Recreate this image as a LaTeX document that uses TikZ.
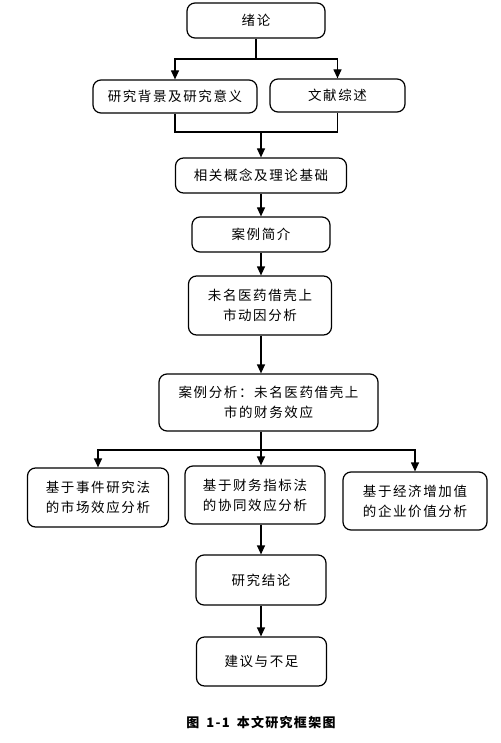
\documentclass[tikz,border=0pt]{standalone}
\usepackage{fontspec}
\newfontfamily\cjk[LetterSpace=12]{Noto Sans CJK SC}
\newfontfamily\cjkcap[LetterSpace=10]{Noto Sans CJK SC}
\usetikzlibrary{arrows.meta}
\tikzset{
  box/.style = {draw, rounded corners=#1, line width=1.2pt,
                align=center, inner sep=0pt, font=\cjk\fontsize{13.5}{20}\selectfont},
  box/.default = 8pt,
  arr/.style = {line width=1.2pt, -{Triangle[length=9pt,width=8pt]}},
  lnk/.style = {line width=1.2pt}
}

\begin{document}
\begin{tikzpicture}[x=1pt,y=-1pt]
	\useasboundingbox (0,0) rectangle (500,743);
	\def \w{140}
	\def \h{35}
	
	% Top
	\node[box, minimum width=138, minimum height=\h] (intro) at (256,20.5) {绪论};
	\node[box, minimum width=164, minimum height=33] (bg) at (175,96.5) {研究背景及研究意义};
	\node[box, minimum width=135, minimum height=33] (lit) at (337.5,95.5) {文献综述};
	\node[box, minimum width=171, minimum height=\h] (theory) at (261,175.5) {相关概念及理论基础};
	
	% Case
	\node[box, minimum width=138, minimum height=\h] (case) at (261,234.5) {案例简介};
	\node[box, minimum width=143, minimum height=59] (motive) at (260,305.5) {未名医药借壳上\\市动因分析};
	\node[box, minimum width=219, minimum height=57] (effect) at (268.5,402.5) {案例分析：未名医药借壳上\\市的财务效应};
	
	% Three methods
	\node[box, minimum width=141, minimum height=59] (market) at (98,497.5) {基于事件研究法\\的市场效应分析};
	\node[box, minimum width=\w, minimum height=58] (synergy) at (255,495) {基于财务指标法\\的协同效应分析};
	\node[box, minimum width=144, minimum height=58] (eva) at (415,501) {基于经济增加值\\的企业价值分析};
	
	% End
	\node[box, minimum width=130, minimum height=50] (concl) at (261,580) {研究结论};
	\node[box, minimum width=130, minimum height=49] (advice) at (261.5,661.5) {建议与不足};
	
	% Caption
	\node[font=\cjkcap\bfseries\fontsize{13}{15}\selectfont] (cap) at (261,723) {图\hspace{7pt}1-1\hspace{7pt}本文研究框架图};
	
	% Arrows
	\coordinate (split1) at (256,59);
	\coordinate (join1) at (261,132);
	\coordinate (split2) at (261,450);
	\draw[lnk] (intro.south) -- (split1);
	\draw[arr] (split1) -| (bg.north);
	\draw[arr] (split1) -| (lit.north);
	\draw[lnk] (bg.south) |- (join1) -| (lit.south);
	\draw[arr] (join1) -- (theory.north);
	\draw[arr] (theory.south) -- (case.north);
	\draw[arr] (case.south) -- (motive.north -| case.south);
	\draw[arr] (motive.south -| join1) -- (effect.north -| join1);
	\draw[lnk] (effect.south -| split2) -- (split2);
	\draw[arr] (split2) -| (market.north);
	\draw[arr] (split2) -- (synergy.north -| split2);
	\draw[arr] (split2) -| (eva.north);
	\draw[arr] (synergy.south -| split2) -- (concl.north);
	\draw[arr] (concl.south) -- (concl.south |- advice.north);
	
\end{tikzpicture}
\end{document}
